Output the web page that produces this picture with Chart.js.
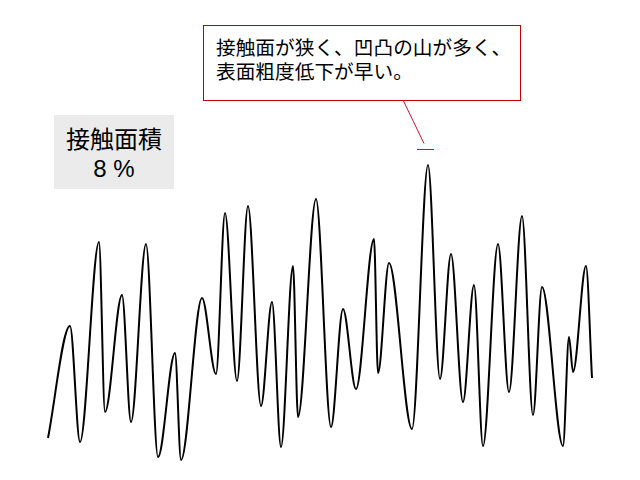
<!DOCTYPE html>
<html lang="ja">
<head>
<meta charset="utf-8">
<title>接触面積 8%</title>
<script src="https://cdn.jsdelivr.net/npm/chart.js@4.4.1/dist/chart.umd.min.js"></script>
<style>
    body { margin: 0; background: #fff; font-family: "Noto Sans CJK JP", sans-serif; }
    #wrap { position: relative; width: 640px; height: 480px; }
    #profile { position: absolute; left: 0; top: 0; }
    .note {
        position: absolute; left: 203px; top: 25px; width: 318px; height: 76px;
        border: 1px solid #c00000; box-sizing: border-box; background: #fff;
        padding: 9px 0 0 12px; font-size: 19.7px; line-height: 24px; color: #000;
    }
    .area {
        position: absolute; left: 54px; top: 115px; width: 120px; height: 74px;
        background: #ebebeb; text-align: center; color: #000;
        font-size: 24px; line-height: 29px; padding-top: 8px; box-sizing: border-box;
    }
    .area .pct { font-family: "Liberation Sans", Arial, sans-serif; font-size: 24px; }
</style>
</head>
<body>
<div id="wrap">
    <canvas id="profile" width="640" height="480"></canvas>
    <div class="area">接触面積<br><span class="pct">8 %</span></div>
    <div class="note">接触面が狭く、凹凸の山が多く、<br>表面粗度低下が早い。</div>
</div>
<script>
// surface profile: peaks and valleys
const positions = [48, 70, 80, 99, 105, 122, 131, 146, 158, 175, 181, 202, 216, 225, 237,
    248, 261, 272, 281, 293, 298, 316, 331, 343, 356, 374, 378, 389, 412, 428,
    440, 451, 463, 474, 483, 498, 509, 522, 533, 542, 563, 569, 573, 586, 592];
const heights = [42, 154, 38, 238, 68, 185, 58, 236, 23, 127, 20, 182, 106, 267, 99,
    274, 74, 178, 33, 214, 63, 281, 53, 171, 91, 241, 107, 217, 51, 315,
    101, 226, 78, 195, 34, 236, 88, 264, 65, 193, 34, 143, 108, 214, 102];

// red leader from the note box down to the highest peak
const leader = {
    id: 'leader',
    afterDraw(chart) {
        const ctx = chart.ctx;
        ctx.save();
        ctx.strokeStyle = '#d0102a';
        ctx.lineWidth = 1;
        ctx.beginPath();
        ctx.moveTo(403.5, 101);
        ctx.lineTo(424, 143.5);
        ctx.moveTo(417, 149.5);
        ctx.lineTo(434, 149.5);
        ctx.stroke();
        ctx.restore();
    }
};

new Chart(document.getElementById('profile'), {
    type: 'line',
    data: {
        datasets: [{
            data: positions.map((x, i) => ({ x: x, y: heights[i] })),
            borderColor: '#000',
            borderWidth: 2,
            pointRadius: 0,
            cubicInterpolationMode: 'monotone',
            fill: false,
            clip: false
        }]
    },
    options: {
        responsive: false,
        animation: false,
        layout: { padding: 0 },
        plugins: {
            legend: { display: false },
            tooltip: { enabled: false }
        },
        scales: {
            x: { type: 'linear', min: 0, max: 640, display: false },
            y: { min: 0, max: 480, display: false }
        }
    },
    plugins: [leader]
});
</script>
</body>
</html>
